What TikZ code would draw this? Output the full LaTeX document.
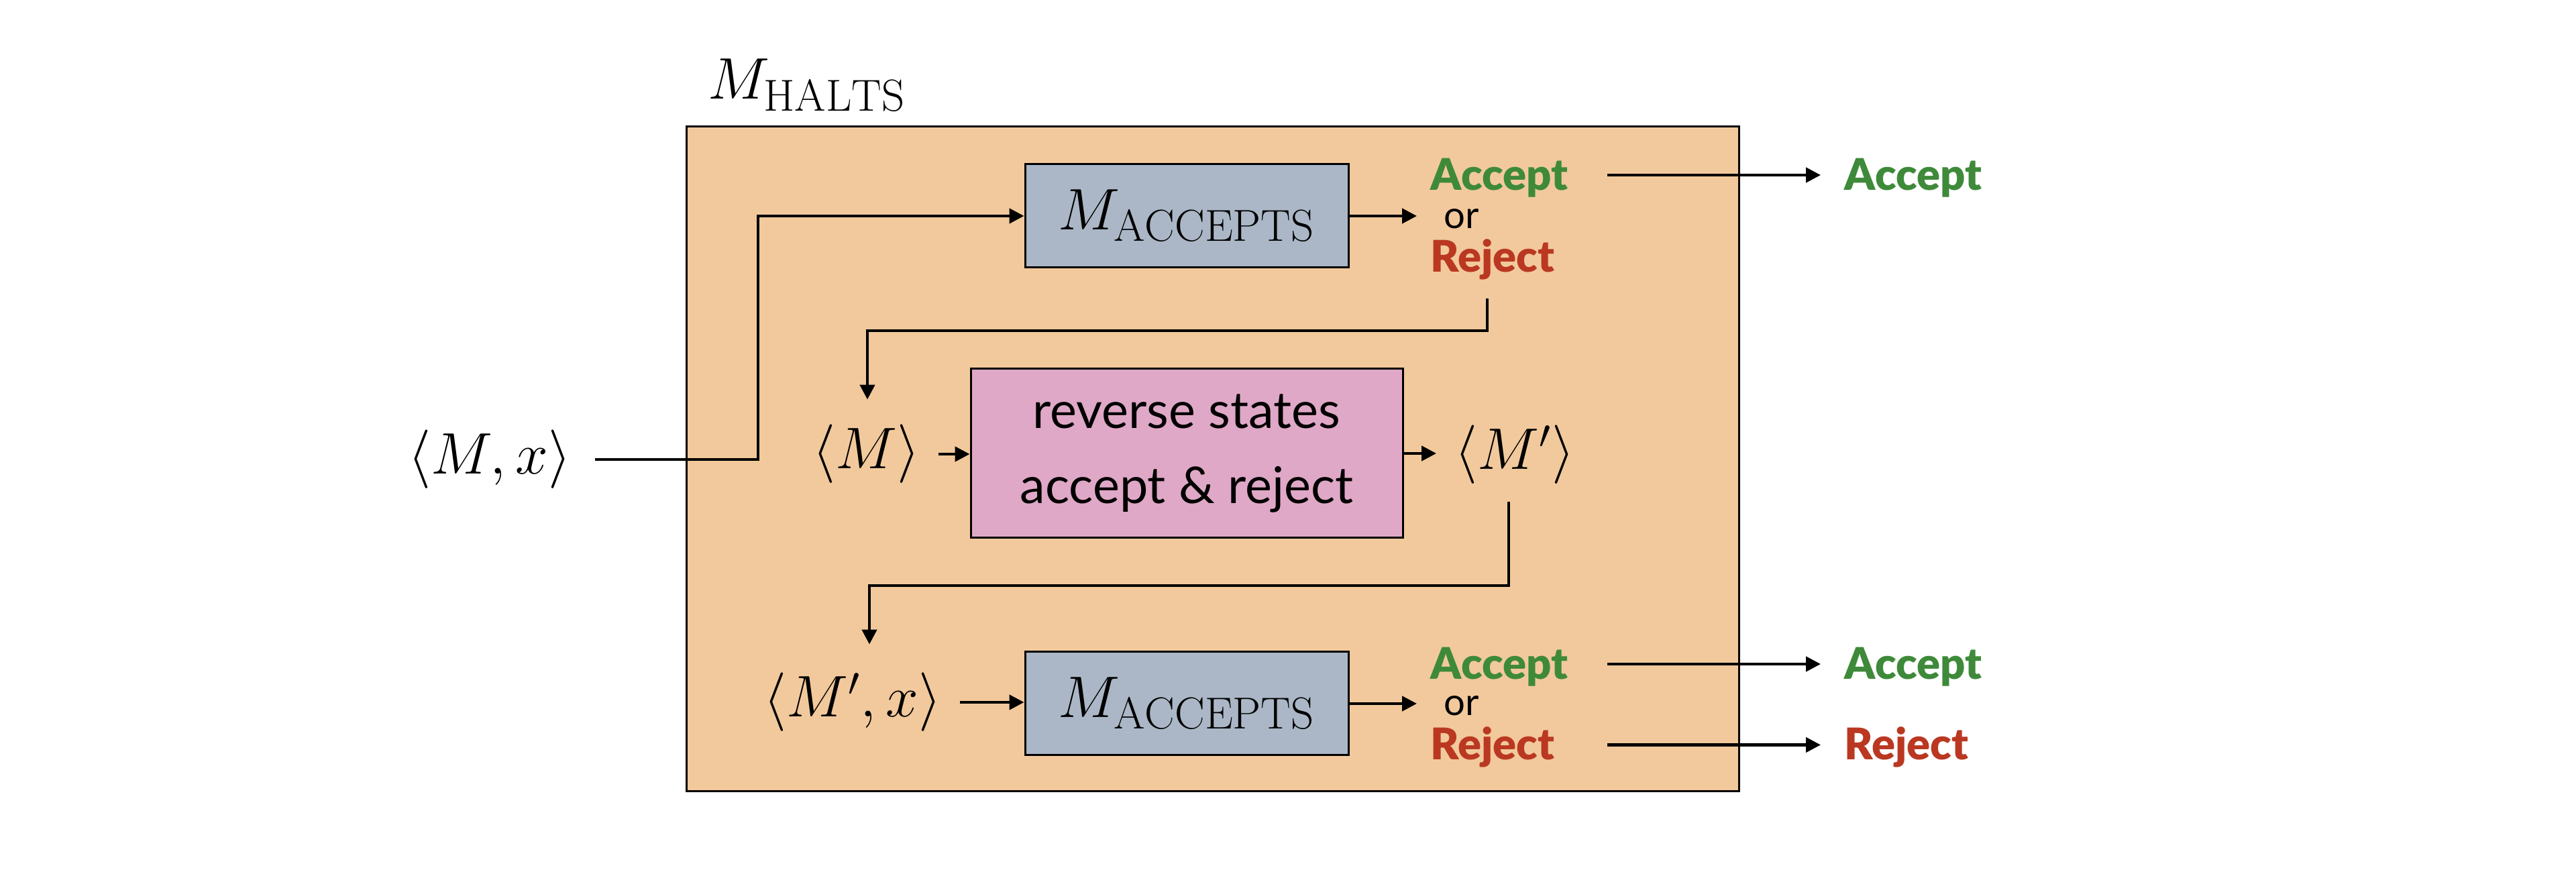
\documentclass[tikz,border=0pt]{standalone}
\usepackage{fontspec}
\usepackage{amsmath}
\usepackage{tikz}
\usetikzlibrary{arrows.meta}

\newfontfamily\labelfont{Lato}
\newfontfamily\verdictfont{Lato Black}
\DeclareMathSizes{24}{24}{19}{13}

\definecolor{haltsfill}{RGB}{242,201,156}
\definecolor{machinefill}{RGB}{171,183,198}
\definecolor{reversefill}{RGB}{223,168,198}
\definecolor{acceptgreen}{RGB}{62,138,58}
\definecolor{rejectred}{RGB}{186,56,33}

\begin{document}
\begin{tikzpicture}[
    arr/.style={-{Triangle[length=0.22cm, width=0.22cm]}, line width=0.045cm},
    machine/.style={draw, fill=machinefill, line width=0.03cm, inner sep=0, minimum width=4.82cm, minimum height=1.54cm, font=\fontsize{24}{28}\selectfont},
    code/.style={inner sep=0.27cm, font=\fontsize{24}{28}\selectfont},
    verdict/.style={anchor=west, font=\verdictfont\fontsize{18.5}{22}\selectfont, text height=0.45cm, text depth=0cm, inner ysep=0, inner xsep=0.36cm, text width=2.27cm, align=left},
    outcome/.style={anchor=west, font=\verdictfont\fontsize{18.5}{22}\selectfont, text height=0.45cm, text depth=0cm, inner ysep=0, inner xsep=0.35cm},
    orword/.style={anchor=west, font=\labelfont\fontsize{16}{18}\selectfont, inner ysep=0, inner xsep=0.4cm}
]
    \useasboundingbox (0, 0) rectangle (38.4, 13);

    \node[draw, fill=haltsfill, line width=0.03cm, minimum width=15.69cm, minimum height=9.91cm] at (18.075, 6.155) (halts) {};
    \node[anchor=base west, inner sep=0, font=\fontsize{24}{28}\selectfont] at (10.55, 11.52) (haltslbl) {$M_{\mathrm{HALTS}}$};

    \node[code, inner xsep=0.35cm] at (7.30, 6.15) (input) {$\langle M, x\rangle$};

    % first run of the acceptor
    \node[machine] at (17.69, 9.78) (accepts1) {$M_{\mathrm{ACCEPTS}}$};
    \node[verdict, text=acceptgreen] at (20.96, 10.39) (acc1) {Accept};
    \node[orword] at (21.12, 9.74) (or1) {or};
    \node[verdict, text=rejectred] at (20.96, 9.165) (rej1) {Reject};
    \node[outcome, text=acceptgreen] at (27.14, 10.39) (accout1) {Accept};

    % swap the two halting states
    \node[code] at (12.91, 6.23) (mcode) {$\langle M\rangle$};
    \node[draw, fill=reversefill, line width=0.03cm, minimum width=6.44cm, minimum height=2.52cm, align=center, font=\labelfont\fontsize{21.5}{32}\selectfont] at (17.69, 6.24) (reverse) {reverse states\\accept \& reject};
    \node[code] at (22.58, 6.22) (mprime) {$\langle M'\rangle$};

    % second run of the acceptor
    \node[code] at (12.71, 2.53) (mpx) {$\langle M', x\rangle$};
    \node[machine] at (17.69, 2.51) (accepts2) {$M_{\mathrm{ACCEPTS}}$};
    \node[verdict, text=acceptgreen] at (20.96, 3.10) (acc2) {Accept};
    \node[orword] at (21.12, 2.48) (or2) {or};
    \node[verdict, text=rejectred] at (20.96, 1.895) (rej2) {Reject};
    \node[outcome, text=acceptgreen] at (27.14, 3.10) (accout2) {Accept};
    \node[outcome, text=rejectred] at (27.14, 1.895) (rejout2) {Reject};

    \coordinate (split) at (11.30, 9.78);
    \coordinate (fb1top) at (22.17, 8.55);
    \coordinate (fb1turn) at (12.93, 8.07);
    \coordinate (fb2top) at (22.49, 5.52);
    \coordinate (fb2turn) at (12.96, 4.27);

    \draw[arr] (input.east) -| (split) -- (accepts1.west);
    \draw[arr] (accepts1.east) -- (accepts1.east -| or1.west);
    \draw[arr] (acc1.east) -- (accout1.west);

    \draw[arr, shorten >=0.1cm] (fb1top) |- (fb1turn) -- (fb1turn |- mcode.north);
    \draw[arr] (mcode.east) -- (mcode.east -| reverse.west);
    \draw[arr] (reverse.east) -- (reverse.east -| mprime.west);

    \draw[arr, shorten >=0.15cm] (fb2top) |- (fb2turn) -- (fb2turn |- mpx.north);
    \draw[arr] (mpx.east) -- (mpx.east -| accepts2.west);
    \draw[arr] (accepts2.east) -- (accepts2.east -| or2.west);
    \draw[arr] (acc2.east) -- (accout2.west);
    \draw[arr] (rej2.east) -- (rejout2.west);
\end{tikzpicture}
\end{document}
